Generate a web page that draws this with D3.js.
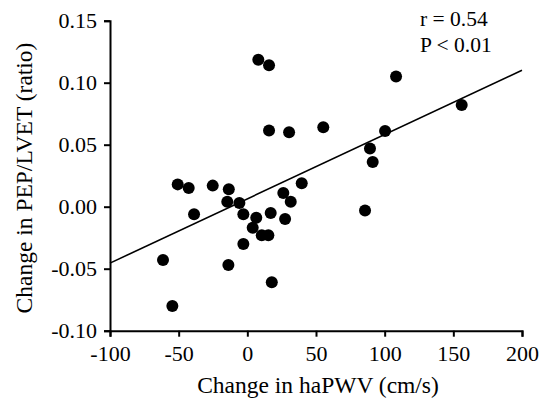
<!DOCTYPE html>
<html>
<head>
<meta charset="utf-8">
<script src="https://cdn.jsdelivr.net/npm/d3@7"></script>
<style>
html,body{margin:0;padding:0;background:#fff;}
svg{display:block;}
svg text{font-family:'Liberation Serif','Times New Roman',serif;}
</style>
</head>
<body>
<svg id="chart" width="541" height="399"></svg>
<script>
const xValues = [-50.7,-42.7,-25.2,-13.5,-14.6,-5.8,-2.9,-38.8,6.5,17.0,3.9,10.5,15.3,-2.9,-61.4,-13.8,-54.6,17.8,27.5,31.6,26.2,39.6,85.7,8.0,15.8,15.8,30.4,55.3,108.3,100.3,89.3,91.3,156.1];
const yValues = [0.018,0.015,0.017,0.014,0.004,0.003,-0.006,-0.006,-0.009,-0.005,-0.017,-0.023,-0.023,-0.030,-0.043,-0.047,-0.080,-0.061,-0.010,0.004,0.011,0.019,-0.003,0.1185,0.114,0.0615,0.060,0.064,0.105,0.061,0.047,0.036,0.082];
const fitX = [-100, 200];
const fitY = [-0.0455, 0.110];
const xTicks = [-100,-50,0,50,100,150,200];
const yTicks = [-0.10,-0.05,0.00,0.05,0.10,0.15];
const xTitle = "Change in haPWV (cm/s)";
const yTitle = "Change in PEP/LVET (ratio)";
const statLines = ["r = 0.54", "P < 0.01"];

const W = 541, H = 399;
const m = {left:110, right:19, top:20.7, bottom:68.3};
const svg = d3.select("#chart");
const font = "'Liberation Serif','Times New Roman',serif";

const x = d3.scaleLinear().domain([-100,200]).range([m.left, W - m.right]);
const y = d3.scaleLinear().domain([-0.10,0.15]).range([H - m.bottom, m.top]);

const xAxis = svg.append("g").attr("transform", `translate(0,${H - m.bottom})`)
  .call(d3.axisBottom(x).tickValues(xTicks).tickFormat(d => String(d)).tickSize(6).tickPadding(9));
const yAxis = svg.append("g").attr("transform", `translate(${m.left},0)`)
  .call(d3.axisLeft(y).tickValues(yTicks).tickFormat(d => d.toFixed(2)).tickSize(6).tickPadding(7));

[xAxis, yAxis].forEach(g => {
  g.attr("font-family", font).attr("font-size", 22);
  g.selectAll("path,line").attr("stroke","#000").attr("stroke-width",2);
  g.selectAll("text").attr("fill","#000").attr("font-family",font).attr("font-size",22)
    .style("font-family",font).style("font-size","22px");
});

// regression line
svg.append("line")
  .attr("x1", x(fitX[0])).attr("y1", y(fitY[0]))
  .attr("x2", x(fitX[1])).attr("y2", y(fitY[1]))
  .attr("stroke","#000").attr("stroke-width",1.6);

// points
svg.append("g").selectAll("circle").data(xValues.map((v,i)=>[v,yValues[i]])).join("circle")
  .attr("cx", d => x(d[0])).attr("cy", d => y(d[1])).attr("r", 6).attr("fill","#000");

// axis titles
svg.append("text").attr("x", 318).attr("y", 393)
  .attr("text-anchor","middle").attr("font-family",font).attr("font-size",23.5)
  .text(xTitle);
svg.append("text").attr("transform", `translate(32,178) rotate(-90)`)
  .attr("text-anchor","middle").attr("font-family",font).attr("font-size",23.5)
  .text(yTitle);

// stats
svg.append("g").selectAll("text").data(statLines).join("text")
  .attr("x", 420).attr("y", (d,i) => 26 + i*26)
  .attr("font-family",font).attr("font-size",21.5).text(d => d);
</script>
</body>
</html>
